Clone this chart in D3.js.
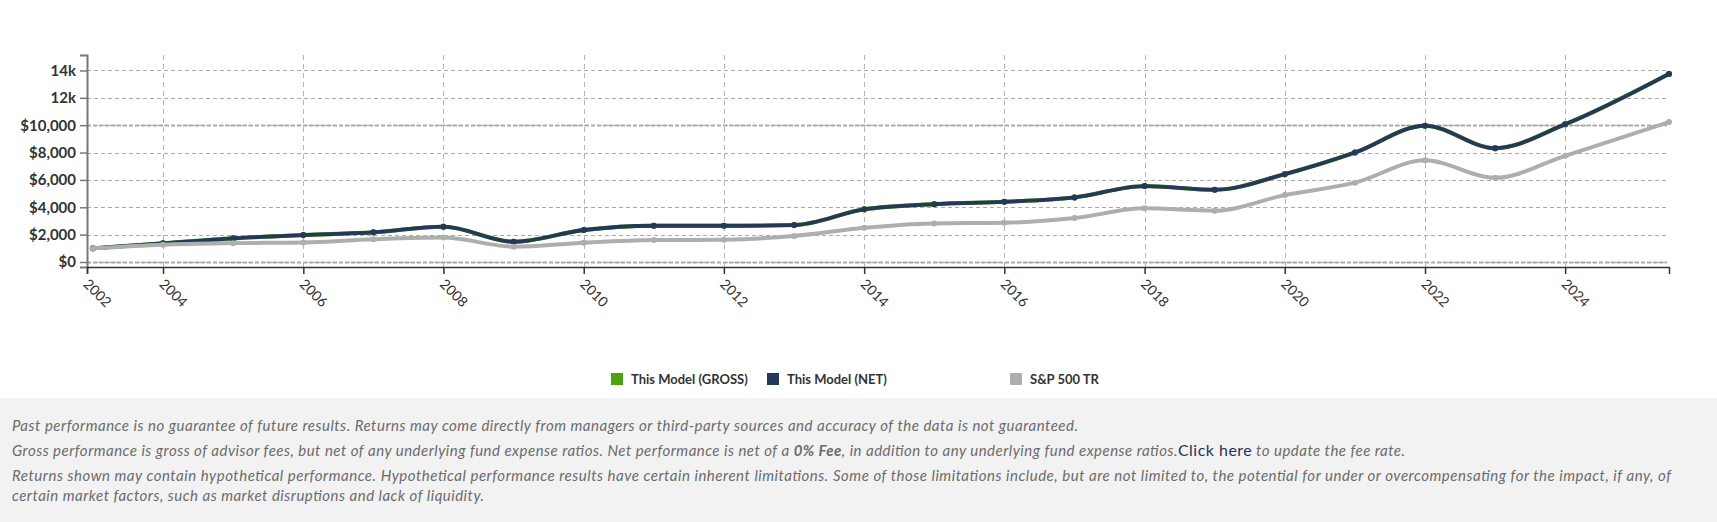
<!DOCTYPE html>
<html>
<head>
<meta charset="utf-8">
<script src="https://cdn.jsdelivr.net/npm/d3@7"></script>
<style>
  html, body { margin: 0; padding: 0; background: #ffffff; }
  svg { display: block; font-family: Lato, "Open Sans", sans-serif; }
</style>
</head>
<body>
<svg id="chart" width="1717" height="522"></svg>
<script>
// ---------------- DATA ----------------
const dates = [
  "2003-01-01","2004-01-01","2005-01-01","2006-01-01","2007-01-01","2008-01-01",
  "2009-01-01","2010-01-01","2011-01-01","2012-01-01","2013-01-01","2014-01-01",
  "2015-01-01","2016-01-01","2017-01-01","2018-01-01","2019-01-01","2020-01-01",
  "2021-01-01","2022-01-01","2023-01-01","2024-01-01","2025-06-25"
];
const grossValues = [1000,1365,1730,1970,2170,2580,1480,2340,2650,2650,2700,3850,
                     4230,4400,4720,5550,5280,6420,8000,9960,8320,10070,13750];
const netValues   = [1000,1365,1730,1970,2170,2580,1480,2340,2650,2650,2700,3850,
                     4230,4400,4720,5550,5280,6420,8000,9960,8320,10070,13750];
const spValues    = [1000,1270,1380,1430,1660,1790,1120,1410,1600,1630,1900,2500,
                     2820,2870,3210,3920,3750,4890,5800,7430,6150,7760,10230];
const seriesNames = ["This Model (GROSS)", "This Model (NET)", "S&P 500 TR"];
const yTickValues = [0, 2000, 4000, 6000, 8000, 10000, 12000, 14000];
const yTickLabels = ["$0", "$2,000", "$4,000", "$6,000", "$8,000", "$10,000", "12k", "14k"];
const xTickDates  = ["2002-12-01","2004-01-01","2006-01-01","2008-01-01","2010-01-01","2012-01-01",
                     "2014-01-01","2016-01-01","2018-01-01","2020-01-01","2022-01-01","2024-01-01"];
const xTickLabels = ["2002","2004","2006","2008","2010","2012","2014","2016","2018","2020","2022","2024"];
const xDomain = ["2002-12-01", "2025-06-25"];
const yDomain = [-365, 15130];

// ---------------- STYLE ----------------
const colors = { gross: "#4ca30d", net: "#253858", sp: "#aeaeae" };

const parse = d3.timeParse("%Y-%m-%d");
const svg = d3.select("#chart");

const x = d3.scaleTime().domain(xDomain.map(parse)).range([87, 1669]);
const y = d3.scaleLinear().domain(yDomain).range([267, 55]);

// Grid
const grid = svg.append("g");
grid.selectAll("line.h").data(yTickValues).join("line")
  .attr("x1", 87).attr("x2", 1667)
  .attr("y1", d => Math.round(y(d)) + 0.5).attr("y2", d => Math.round(y(d)) + 0.5)
  .attr("stroke", "#aaaaaa").attr("stroke-width", 1).attr("stroke-dasharray", "4,3");
grid.selectAll("line.hh").data([0, 10000]).join("line")
  .attr("x1", 87).attr("x2", 1667)
  .attr("y1", d => Math.round(y(d)) + 0.5).attr("y2", d => Math.round(y(d)) + 0.5)
  .attr("stroke", "#aaaaaa").attr("stroke-width", 2).attr("stroke-dasharray", "4,2");
grid.selectAll("line.v").data(xTickDates.slice(1).map(parse)).join("line")
  .attr("x1", d => Math.round(x(d)) + 0.5).attr("x2", d => Math.round(x(d)) + 0.5)
  .attr("y1", 55).attr("y2", 267)
  .attr("stroke", "#b5b5b5").attr("stroke-width", 1).attr("stroke-dasharray", "5,4");

// Y axis
const yAxis = svg.append("g").attr("transform", "translate(87,0)")
  .call(d3.axisLeft(y).tickValues(yTickValues).tickFormat((d, i) => yTickLabels[i])
        .tickSize(7).tickSizeOuter(7).tickPadding(4));
yAxis.select(".domain").attr("stroke", "#777").attr("stroke-width", 2);
yAxis.selectAll(".tick line").attr("stroke", "#777").attr("stroke-width", 1.5);
yAxis.selectAll(".tick text").attr("fill", "#333").style("font-family", "Lato")
  .style("font-size", "15px").style("font-weight", "bold");

// X axis
const xAxis = svg.append("g").attr("transform", "translate(0,267)")
  .call(d3.axisBottom(x).tickValues(xTickDates.map(parse)).tickFormat((d, i) => xTickLabels[i])
        .tickSize(7).tickSizeOuter(7));
xAxis.select(".domain").attr("stroke", "#333").attr("stroke-width", 1.5);
xAxis.selectAll(".tick line").attr("stroke", "#333").attr("stroke-width", 1.5);
xAxis.selectAll(".tick text")
  .attr("x", 0).attr("y", 0).attr("dy", 0)
  .attr("text-anchor", "start")
  .attr("transform", "translate(-5,18) rotate(45)")
  .attr("fill", "#333").style("font-family", "Lato").style("font-size", "14px");

// Lines
const line = d3.line().x(d => x(d.date)).y(d => y(d.v)).curve(d3.curveMonotoneX);
const mk = vals => dates.map((d, i) => ({ date: parse(d), v: vals[i] }));
const series = [
  { data: mk(grossValues), color: colors.gross, w: 4.1, r: 3.1 },
  { data: mk(netValues),   color: colors.net,   w: 3.8, r: 3.0 },
  { data: mk(spValues),    color: colors.sp,    w: 4.0, r: 3.0 }
];
series.forEach(s => {
  const g = svg.append("g");
  g.append("path").datum(s.data).attr("d", line)
    .attr("fill", "none").attr("stroke", s.color).attr("stroke-width", s.w)
    .attr("stroke-linejoin", "round").attr("stroke-linecap", "round");
  g.selectAll("circle").data(s.data).join("circle")
    .attr("cx", d => x(d.date)).attr("cy", d => y(d.v)).attr("r", s.r)
    .attr("fill", s.color);
});

// Legend
const legendX = [611, 767, 1010];
const legendColors = [colors.gross, colors.net, colors.sp];
const legend = svg.append("g");
seriesNames.forEach((name, i) => {
  legend.append("rect").attr("x", legendX[i]).attr("y", 373).attr("width", 12).attr("height", 12)
    .attr("fill", legendColors[i]);
  legend.append("text").attr("x", legendX[i] + 20).attr("y", 384)
    .attr("fill", "#333").style("font-size", "13px").style("font-weight", "bold").text(name);
});

// Footer
svg.append("rect").attr("x", 0).attr("y", 398).attr("width", 1717).attr("height", 124).attr("fill", "#f2f2f2");
const foot = svg.append("g").attr("fill", "#6b6b6b").style("font-size", "15px").style("font-style", "italic");
foot.append("text").attr("x", 12).attr("y", 431).attr("textLength", 1066).attr("lengthAdjust", "spacing")
  .text("Past performance is no guarantee of future results. Returns may come directly from managers or third-party sources and accuracy of the data is not guaranteed.");
const l2 = foot.append("text").attr("x", 12).attr("y", 456).attr("textLength", 1393).attr("lengthAdjust", "spacing");
l2.append("tspan").text("Gross performance is gross of advisor fees, but net of any underlying fund expense ratios. Net performance is net of a ");
l2.append("tspan").style("font-weight", "bold").text("0% Fee");
l2.append("tspan").text(", in addition to any underlying fund expense ratios.");
l2.append("tspan").style("font-style", "normal").attr("fill", "#1f3560").style("font-size", "16px").text("Click here");
l2.append("tspan").text(" to update the fee rate.");
foot.append("text").attr("x", 12).attr("y", 481).attr("textLength", 1659).attr("lengthAdjust", "spacing")
  .text("Returns shown may contain hypothetical performance. Hypothetical performance results have certain inherent limitations. Some of those limitations include, but are not limited to, the potential for under or overcompensating for the impact, if any, of");
foot.append("text").attr("x", 12).attr("y", 501).attr("textLength", 472).attr("lengthAdjust", "spacing")
  .text("certain market factors, such as market disruptions and lack of liquidity.");
</script>
</body>
</html>
